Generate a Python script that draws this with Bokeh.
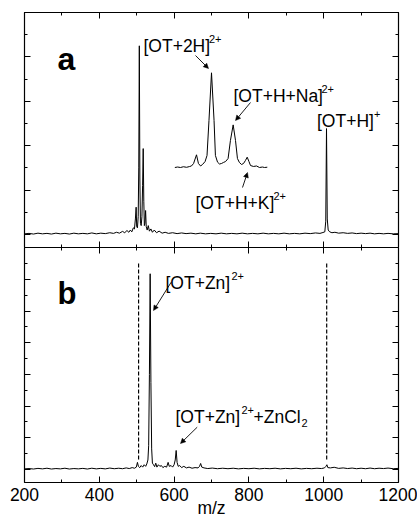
from bokeh.plotting import figure
from bokeh.models import (Label, Arrow, NormalHead, LinearAxis, SingleIntervalTicker,
                          Range1d, CustomJSTickFormatter)
from bokeh.layouts import column
from bokeh.embed import file_html
from bokeh.resources import INLINE

# ---------------- data ----------------
# panel a: full spectrum (m/z, intensity in axis units)
mz_a = [200, 212, 224, 236, 248, 260, 272, 284, 296, 308, 320, 332, 344, 356, 368, 380, 392, 404,
        416, 428, 438, 446, 454, 462, 468, 474, 479, 483, 487, 491, 494, 496.5, 498.5, 500, 502,
        504, 505.5, 507, 508.5, 510, 512, 514, 515.8, 517.4, 519, 520.5, 522, 523.8, 525.5, 528,
        531, 534, 538, 542, 547, 553, 560, 568, 576, 585, 596, 608, 620, 632, 645, 658, 670, 684,
        698, 712, 726, 740, 754, 768, 782, 796, 810, 824, 838, 852, 866, 880, 894, 908, 922, 936,
        950, 964, 978, 990, 998, 1003, 1005.5, 1007.5, 1009.5, 1012, 1016, 1022, 1030, 1040,
        1052, 1064, 1076, 1088, 1100, 1112, 1124, 1136, 1148, 1160, 1172, 1186, 1200]
int_a = [0.03, 0.05, 0.02, 0.06, 0.03, 0.05, 0.02, 0.06, 0.03, 0.05, 0.02, 0.06, 0.03, 0.05, 0.03,
         0.07, 0.03, 0.06, 0.04, 0.08, 0.05, 0.10, 0.06, 0.14, 0.08, 0.18, 0.10, 0.20, 0.12, 0.30,
         0.25, 0.70, 1.23, 0.35, 0.30, 0.80, 3.00, 8.50, 2.50, 0.50, 0.40, 0.80, 2.20, 3.87, 1.50,
         0.40, 0.50, 1.08, 0.35, 0.20, 0.40, 0.15, 0.25, 0.10, 0.20, 0.08, 0.15, 0.06, 0.10, 0.05,
         0.08, 0.04, 0.07, 0.04, 0.06, 0.03, 0.06, 0.03, 0.05, 0.03, 0.06, 0.03, 0.05, 0.03, 0.06,
         0.03, 0.05, 0.03, 0.06, 0.03, 0.05, 0.03, 0.06, 0.03, 0.05, 0.03, 0.06, 0.04, 0.07, 0.05,
         0.09, 0.12, 0.60, 4.77, 0.70, 0.20, 0.12, 0.08, 0.10, 0.06, 0.08, 0.05, 0.07, 0.04, 0.06,
         0.04, 0.06, 0.03, 0.05, 0.03, 0.05, 0.03, 0.04]

# panel a inset: zoom of the doubly charged region (m/z, relative intensity %)
inset_mz = [487.4, 488.8, 490.3, 491.8, 493.4, 494.9, 495.9, 497.0, 498.5, 499.5, 500.6, 501.6,
            502.9, 503.9, 504.9, 506.2, 507.5, 508.2, 509.3, 510.3, 511.3, 512.3, 513.4, 514.7,
            515.9, 517.3, 518.5, 519.5, 520.5, 521.6, 522.6, 523.6, 524.5, 525.4, 526.2, 527.7,
            529.3, 530.8, 532.3, 533.4, 534.8]
inset_int = [0.0, 0.5, 0.0, 0.8, 0.2, 1.0, 1.6, 4.2, 13.4, 4.2, 1.6, 3.2, 6.3, 12.7, 49.6, 100.0,
             49.6, 12.7, 5.6, 3.7, 4.2, 5.3, 6.3, 9.5, 28.5, 45.0, 28.5, 9.5, 5.3, 3.2, 4.2, 7.4,
             10.9, 6.3, 2.1, 1.1, 1.6, 0.0, 0.5, 0.0, 0.3]

# panel b: spectrum with Zn
mz_b = [200, 212, 224, 236, 248, 260, 272, 284, 296, 308, 320, 332, 344, 356, 368, 380, 392, 404,
        416, 428, 440, 452, 462, 472, 480, 488, 494, 499, 502, 504.5, 508, 512, 516, 520, 524,
        527, 530, 532, 534, 536, 538, 540, 542, 545, 548, 551, 554, 558, 562, 566, 570, 575, 580,
        584, 587, 592, 596, 600, 603, 605.5, 608, 611, 615, 620, 626, 633, 640, 648, 656, 664,
        668, 671, 674, 680, 690, 702, 716, 730, 744, 758, 772, 786, 800, 814, 828, 842, 856, 870,
        884, 898, 912, 926, 940, 954, 968, 982, 994, 1002, 1006, 1008.5, 1011, 1018, 1028, 1040,
        1052, 1064, 1076, 1088, 1100, 1112, 1124, 1136, 1148, 1160, 1172, 1186, 1200]
int_b = [0.04, 0.06, 0.03, 0.07, 0.04, 0.08, 0.03, 0.06, 0.04, 0.08, 0.03, 0.06, 0.04, 0.07, 0.03,
         0.08, 0.04, 0.07, 0.04, 0.09, 0.05, 0.08, 0.05, 0.10, 0.06, 0.12, 0.08, 0.15, 0.45, 0.20,
         0.12, 0.25, 0.15, 0.30, 0.20, 0.35, 0.60, 1.50, 6.00, 12.35, 5.50, 1.30, 0.40, 0.30, 0.18,
         0.40, 0.15, 0.30, 0.20, 0.25, 0.12, 0.20, 0.15, 0.45, 0.20, 0.25, 0.15, 0.30, 0.60, 1.20,
         0.45, 0.20, 0.25, 0.12, 0.20, 0.10, 0.15, 0.08, 0.12, 0.10, 0.20, 0.38, 0.15, 0.10, 0.06,
         0.09, 0.05, 0.08, 0.05, 0.08, 0.04, 0.07, 0.05, 0.08, 0.04, 0.07, 0.05, 0.08, 0.04, 0.07,
         0.05, 0.08, 0.04, 0.07, 0.05, 0.08, 0.06, 0.10, 0.20, 0.30, 0.12, 0.10, 0.14, 0.07, 0.10,
         0.06, 0.09, 0.05, 0.08, 0.05, 0.09, 0.05, 0.08, 0.06, 0.09, 0.05, 0.07]

# reference m/z of [OT+2H]2+ and [OT+H]+ marked in panel b
ref_mz = [505, 1008]

x_ticks_interval = 200
y_ticks_interval = 2
x_title = "m/z"

FONT = "Liberation Sans"

# ---------------- geometry helpers (pixel -> data) ----------------
X0_PX, X_SCALE = 24.0, 0.374           # frame left px, px per m/z unit
A_BASE_PX, A_UNIT = 234.0, 22.2        # panel a baseline px, px per y unit
B_BASE_PX, B_UNIT = 469.0, 15.85       # panel b baseline px, px per y unit


def dx(px):
    return 200 + (px - X0_PX) / X_SCALE


def ay(py):
    return (A_BASE_PX - py) / A_UNIT


def by(py):
    return (B_BASE_PX - py) / B_UNIT


EMPTY = CustomJSTickFormatter(code="return '';")


def style_axis(ax, show_labels=False):
    ax.axis_line_color = "black"
    ax.axis_line_width = 1.2
    ax.major_tick_in = 6
    ax.major_tick_out = 0
    ax.minor_tick_in = 3
    ax.minor_tick_out = 0
    ax.major_tick_line_color = "black"
    ax.minor_tick_line_color = "black"
    ax.major_tick_line_width = 1
    ax.minor_tick_line_width = 1
    if show_labels:
        ax.major_label_text_font = FONT
        ax.major_label_text_font_size = "17.5px"
        ax.major_label_text_color = "black"
        ax.major_label_standoff = 5
    else:
        ax.formatter = EMPTY
        ax.major_label_standoff = 0


def make_fig(y0, y1, top, bottom):
    p = figure(frame_width=374, frame_height=235,
               x_range=Range1d(200, 1200), y_range=Range1d(y0, y1),
               output_backend="svg", toolbar_location=None,
               x_axis_location=None, y_axis_location=None,
               min_border_left=24, min_border_right=19,
               min_border_top=top, min_border_bottom=bottom)
    p.grid.visible = False
    p.outline_line_color = None
    p.background_fill_color = "white"
    p.border_fill_color = "white"
    return p


def add_axes(p, bottom_labels=False):
    for loc in ("left", "right"):
        ax = LinearAxis(ticker=SingleIntervalTicker(interval=y_ticks_interval, num_minor_ticks=2))
        style_axis(ax)
        p.add_layout(ax, loc)
    ax = LinearAxis(ticker=SingleIntervalTicker(interval=x_ticks_interval, num_minor_ticks=2))
    style_axis(ax)
    p.add_layout(ax, "above")
    ax = LinearAxis(ticker=SingleIntervalTicker(interval=x_ticks_interval, num_minor_ticks=2))
    style_axis(ax, show_labels=bottom_labels)
    if bottom_labels:
        ax.axis_label = x_title
        ax.axis_label_text_font = FONT
        ax.axis_label_text_font_size = "17.5px"
        ax.axis_label_text_font_style = "normal"
        ax.axis_label_text_color = "black"
        ax.axis_label_standoff = -6
    p.add_layout(ax, "below")


def label(p, text, x, y, size="17.5px", bold=False, align="left"):
    p.add_layout(Label(x=x, y=y, text=text, text_font=FONT, text_font_size=size,
                       text_font_style="bold" if bold else "normal", text_color="black",
                       text_align=align, text_baseline="alphabetic"))


def arrow(p, x0, y0, x1, y1):
    p.add_layout(Arrow(x_start=x0, y_start=y0, x_end=x1, y_end=y1,
                       line_color="black", line_width=0.9,
                       end=NormalHead(size=5, fill_color="black", line_color="black", line_width=0.5)))


# ---------------- panel a ----------------
pa = make_fig(ay(247), ay(12), 12, 0)
add_axes(pa)
pa.line(mz_a, int_a, line_color="black", line_width=1)

# inset placement
IN_MZ0, IN_X0, IN_XK = 498.5, dx(196), 1.95 / X_SCALE
IN_Y0, IN_YK = ay(167), (ay(72.3) - ay(167)) / 100.0
inset_x = [IN_X0 + (m - IN_MZ0) * IN_XK for m in inset_mz]
inset_y = [IN_Y0 + v * IN_YK for v in inset_int]
pa.line(inset_x, inset_y, line_color="black", line_width=1)

label(pa, "a", dx(57), ay(58), size="32px", bold=True)
label(pa, "[OT+2H]", dx(143), ay(45))
label(pa, "2+", dx(208.5), ay(38), size="11px")
label(pa, "[OT+H+Na]", dx(233), ay(95))
label(pa, "2+", dx(321), ay(88), size="11px")
label(pa, "[OT+H]", dx(316.5), ay(120))
label(pa, "+", dx(373.5), ay(113), size="11px")
label(pa, "[OT+H+K]", dx(195), ay(202))
label(pa, "2+", dx(273), ay(195), size="11px")

arrow(pa, dx(195), ay(55), dx(208), ay(68))
arrow(pa, dx(250), ay(102), dx(235), ay(120))
arrow(pa, dx(242), ay(187), dx(247), ay(172))

# ---------------- panel b ----------------
pb = make_fig(by(482), by(247), 0, 37)
add_axes(pb, bottom_labels=True)
pb.segment(x0=ref_mz, y0=[by(459)] * len(ref_mz), x1=ref_mz, y1=[by(263)] * len(ref_mz),
           line_color="black", line_width=1.2, line_dash="4 2")
pb.line(mz_b, int_b, line_color="black", line_width=1)

label(pb, "b", dx(57), by(293), size="31px", bold=True)
label(pb, "[OT+Zn]", dx(165), by(282))
label(pb, "2+", dx(231), by(275), size="11px")
label(pb, "[OT+Zn]", dx(175), by(416))
label(pb, "2+", dx(241), by(409), size="11px")
label(pb, "+ZnCl", dx(253), by(416))
label(pb, "2", dx(301), by(422), size="11px")

arrow(pb, dx(170.7), by(281.7), dx(153), by(310))
arrow(pb, dx(196.7), by(426.7), dx(180), by(443))

layout = column(pa, pb)
open("out.html", "w").write(file_html(layout, INLINE))
